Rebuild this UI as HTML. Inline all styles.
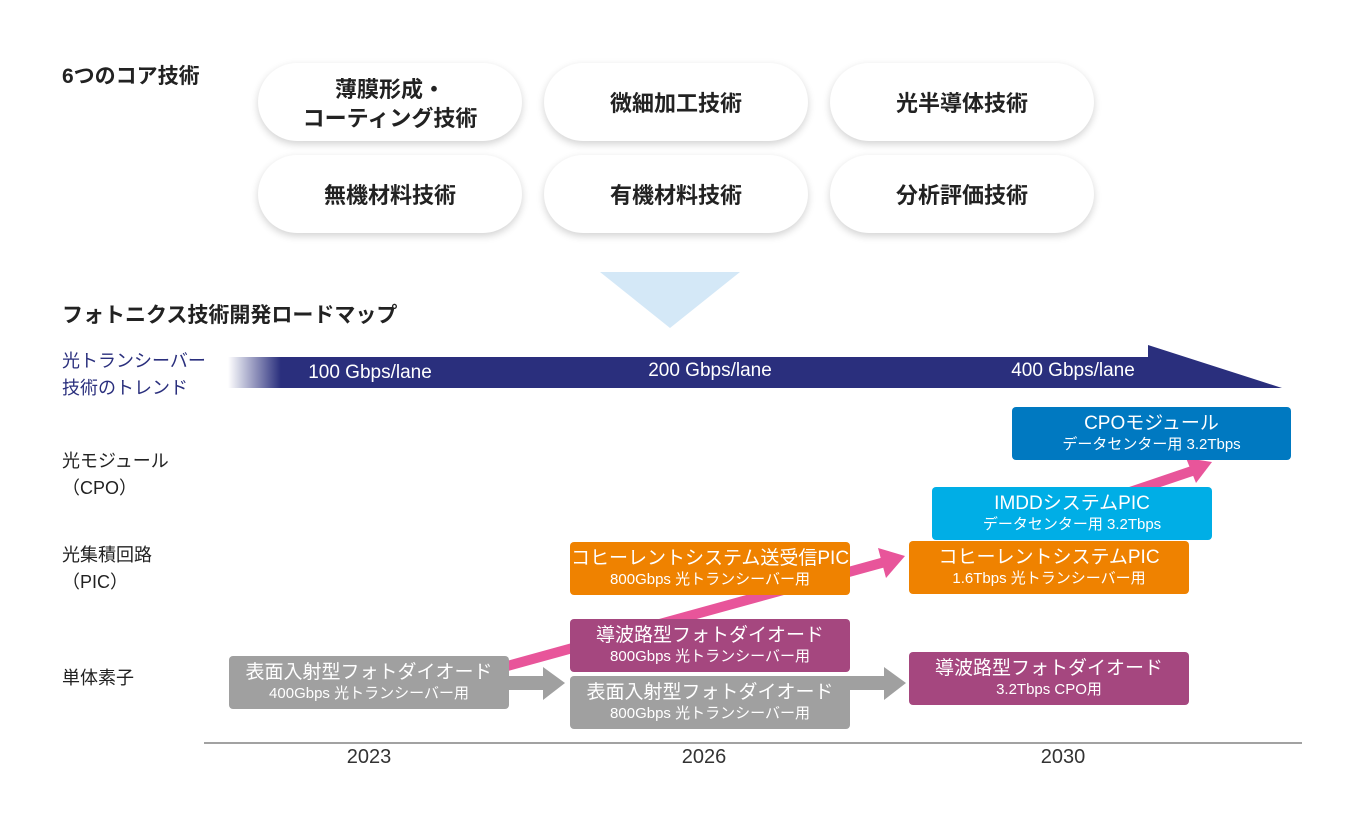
<!DOCTYPE html>
<html><head><meta charset="utf-8"><style>
body{margin:0;width:1360px;height:830px;background:#fff;position:relative;overflow:hidden;font-family:"Liberation Sans","Noto Sans CJK JP",sans-serif;}
.a{position:absolute;}
.pill{position:absolute;width:264px;height:78px;border-radius:39px;background:#fff;box-shadow:0 3px 8px rgba(0,0,0,0.18);display:flex;align-items:center;justify-content:center;text-align:center;font-size:22px;font-weight:bold;color:#222;line-height:29px;padding-top:3px;box-sizing:border-box;}
.lbl{position:absolute;font-size:18px;color:#222;line-height:27px;}
.box{position:absolute;width:280px;height:53px;border-radius:4px;color:#fff;text-align:center;font-size:19px;line-height:23px;padding-top:5px;box-sizing:border-box;}
.box small{font-size:15px;display:block;line-height:20px;}
.yr{position:absolute;top:746px;font-size:20px;color:#333;width:100px;text-align:center;}
</style></head><body>
<div class="a" style="left:62px;top:60px;font-size:21px;font-weight:bold;color:#222;">6つのコア技術</div>
<div class="pill" style="left:258px;top:63px;">薄膜形成・<br>コーティング技術</div>
<div class="pill" style="left:544px;top:63px;">微細加工技術</div>
<div class="pill" style="left:830px;top:63px;">光半導体技術</div>
<div class="pill" style="left:258px;top:155px;">無機材料技術</div>
<div class="pill" style="left:544px;top:155px;">有機材料技術</div>
<div class="pill" style="left:830px;top:155px;">分析評価技術</div>
<svg class="a" style="left:0;top:0" width="1360" height="830">
<defs><linearGradient id="g" x1="0" x2="1"><stop offset="0" stop-color="#fff"/><stop offset="0.05" stop-color="#2a2f7d"/></linearGradient></defs>
<polygon points="600,272 740,272 670,328" fill="#d4e8f7"/>
<polygon points="228,357 1148,357 1148,345 1282,388 228,388" fill="url(#g)"/>
<line x1="204" y1="743" x2="1302" y2="743" stroke="#444" stroke-width="1"/>
<polygon points="505,676 543,676 543,667 565,683 543,700 543,690 505,690" fill="#a0a0a0"/>
<polygon points="846,676 884,676 884,667 906,683 884,700 884,690 846,690" fill="#a0a0a0"/>
<line x1="500" y1="668" x2="885" y2="562" stroke="#e8559a" stroke-width="10"/>
<polygon points="905,556 878,548 886,578" fill="#e8559a"/>
<line x1="1130" y1="492" x2="1195" y2="470" stroke="#e8559a" stroke-width="10"/>
<polygon points="1212,462 1186,458 1196,483" fill="#e8559a"/>
</svg>
<div class="a" style="left:62px;top:299px;font-size:21px;font-weight:bold;color:#222;">フォトニクス技術開発ロードマップ</div>
<div class="a" style="left:270px;top:362px;width:200px;text-align:center;color:#fff;font-size:19px;">100 Gbps/lane</div>
<div class="a" style="left:610px;top:360px;width:200px;text-align:center;color:#fff;font-size:19px;">200 Gbps/lane</div>
<div class="a" style="left:973px;top:360px;width:200px;text-align:center;color:#fff;font-size:19px;">400 Gbps/lane</div>
<div class="lbl" style="left:62px;top:348px;color:#2a2f7d;">光トランシーバー<br>技術のトレンド</div>
<div class="lbl" style="left:62px;top:448px;">光モジュール<br>（CPO）</div>
<div class="lbl" style="left:62px;top:542px;">光集積回路<br>（PIC）</div>
<div class="lbl" style="left:62px;top:665px;">単体素子</div>
<div class="box" style="left:229px;top:656px;background:#a0a0a0;">表面入射型フォトダイオード<small>400Gbps 光トランシーバー用</small></div>
<div class="box" style="left:570px;top:542px;background:#ef8200;">コヒーレントシステム送受信PIC<small>800Gbps 光トランシーバー用</small></div>
<div class="box" style="left:570px;top:619px;background:#a5477f;">導波路型フォトダイオード<small>800Gbps 光トランシーバー用</small></div>
<div class="box" style="left:570px;top:676px;background:#a0a0a0;">表面入射型フォトダイオード<small>800Gbps 光トランシーバー用</small></div>
<div class="box" style="left:909px;top:541px;background:#ef8200;">コヒーレントシステムPIC<small>1.6Tbps 光トランシーバー用</small></div>
<div class="box" style="left:932px;top:487px;background:#00aee6;">IMDDシステムPIC<small>データセンター用 3.2Tbps</small></div>
<div class="box" style="left:1012px;top:407px;width:279px;background:#0079c1;">CPOモジュール<small>データセンター用 3.2Tbps</small></div>
<div class="box" style="left:909px;top:652px;background:#a5477f;">導波路型フォトダイオード<small>3.2Tbps CPO用</small></div>
<div class="yr" style="left:319px;">2023</div>
<div class="yr" style="left:654px;">2026</div>
<div class="yr" style="left:1013px;">2030</div>
</body></html>
